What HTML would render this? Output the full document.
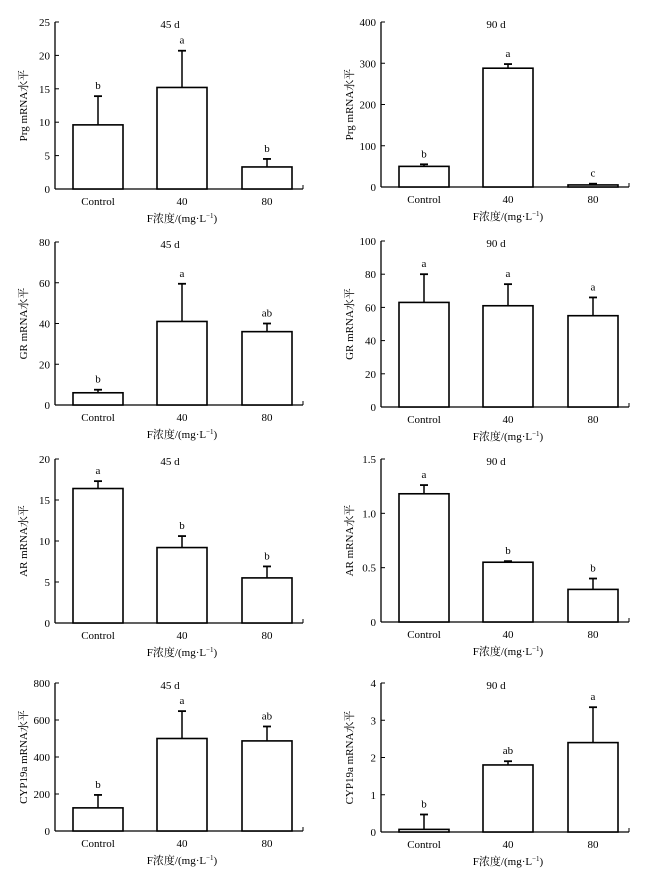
<!DOCTYPE html>
<html><head><meta charset="utf-8"><style>
body{margin:0;background:#fff}
svg{display:block;font-family:"Liberation Serif","Noto Serif CJK SC",serif}
</style></head><body>
<svg id="c" width="645" height="878"></svg>
<script>
const categories=["Control","40","80"];
const prg45=[9.6,15.2,3.3], prg45Err=[13.9,20.7,4.5], prg45Let=["b","a","b"];
const prg90=[50,288,5], prg90Err=[55,298,8], prg90Let=["b","a","c"];
const gr45=[6,41,36], gr45Err=[7.5,59.5,40], gr45Let=["b","a","ab"];
const gr90=[63,61,55], gr90Err=[80,74,66], gr90Let=["a","a","a"];
const ar45=[16.4,9.2,5.5], ar45Err=[17.3,10.6,6.9], ar45Let=["a","b","b"];
const ar90=[1.18,0.55,0.30], ar90Err=[1.26,0.56,0.40], ar90Let=["a","b","b"];
const cyp45=[125,500,487], cyp45Err=[195,648,565], cyp45Let=["b","a","ab"];
const cyp90=[0.07,1.8,2.4], cyp90Err=[0.47,1.9,3.35], cyp90Let=["b","ab","a"];
const ticksPrg45=["0","5","10","15","20","25"];
const ticksPrg90=["0","100","200","300","400"];
const ticksGr45=["0","20","40","60","80"];
const ticksGr90=["0","20","40","60","80","100"];
const ticksAr45=["0","5","10","15","20"];
const ticksAr90=["0","0.5","1.0","1.5"];
const ticksCyp45=["0","200","400","600","800"];
const ticksCyp90=["0","1","2","3","4"];

const svg=document.getElementById('c');
const NS="http://www.w3.org/2000/svg";
function mk(tag,attrs,parent,text){const e=document.createElementNS(NS,tag);for(const k in attrs)e.setAttribute(k,attrs[k]);if(text!==undefined)e.textContent=text;parent.appendChild(e);return e;}

function panel(id,ax,top,bot,ticks,vals,errs,lets,title,ylab){
  const g=mk('g',{},svg);
  
  
  const ymax=parseFloat(ticks[ticks.length-1]);
  const y=v=>bot-(v/ymax)*(bot-top);
  const xEnd=ax+248;
  const ln=mk('line',{x1:ax,y1:top,x2:ax,y2:bot,stroke:'#000','stroke-width':1.3},g);
  
  
  const xl=mk('line',{x1:ax,y1:bot,x2:xEnd,y2:bot,stroke:'#000','stroke-width':1.3},g);
  
  
  mk('line',{x1:xEnd,y1:bot,x2:xEnd,y2:bot-4,stroke:'#000','stroke-width':1},g);
  ticks.forEach(t=>{const yy=y(parseFloat(t));
    mk('line',{x1:ax,y1:yy,x2:ax+4,y2:yy,stroke:'#000','stroke-width':1},g);
    const tl=mk('text',{x:ax-5,y:yy+4,'text-anchor':'end','font-size':11},g,t);
    
    
  });
  const centers=[ax+43,ax+127,ax+212];
  vals.forEach((v,i)=>{
    const cx=centers[i];
    const r=mk('rect',{x:cx-25,y:y(v),width:50,height:bot-y(v),fill:'#fff',stroke:'#000','stroke-width':1.6},g);
    
    
    const ey=y(errs[i]);
    mk('line',{x1:cx,y1:y(v),x2:cx,y2:ey,stroke:'#000','stroke-width':1.5},g);
    mk('line',{x1:cx-4,y1:ey,x2:cx+4,y2:ey,stroke:'#000','stroke-width':1.8},g);
    const lt=mk('text',{x:cx,y:ey-7,'text-anchor':'middle','font-size':11},g,lets[i]);
    
    
    const cl=mk('text',{x:cx,y:bot+16,'text-anchor':'middle','font-size':11},g,categories[i]);
    
    
  });
  const tt=mk('text',{x:ax+115,y:top+6,'text-anchor':'middle','font-size':11},g,title);
  
  
  const xt=mk('text',{x:ax+127,y:bot+33,'text-anchor':'middle','font-size':11},g);
  
  
  xt.innerHTML='F浓度/(mg·L<tspan dy="-4" font-size="7">−1</tspan><tspan dy="4">)</tspan>';
  const ym=(top+bot)/2;
  const yt=mk('text',{x:ax-28,y:ym,'text-anchor':'middle','font-size':11,transform:`rotate(-90 ${ax-28} ${ym})`},g,ylab);
  
  
}
panel('prg-45d',55,22,189,ticksPrg45,prg45,prg45Err,prg45Let,'45 d','Prg mRNA水平');
panel('prg-90d',381,22,187,ticksPrg90,prg90,prg90Err,prg90Let,'90 d','Prg mRNA水平');
panel('gr-45d',55,242,405,ticksGr45,gr45,gr45Err,gr45Let,'45 d','GR mRNA水平');
panel('gr-90d',381,241,407,ticksGr90,gr90,gr90Err,gr90Let,'90 d','GR mRNA水平');
panel('ar-45d',55,459,623,ticksAr45,ar45,ar45Err,ar45Let,'45 d','AR mRNA水平');
panel('ar-90d',381,459,622,ticksAr90,ar90,ar90Err,ar90Let,'90 d','AR mRNA水平');
panel('cyp19a-45d',55,683,831,ticksCyp45,cyp45,cyp45Err,cyp45Let,'45 d','CYP19a mRNA水平');
panel('cyp19a-90d',381,683,832,ticksCyp90,cyp90,cyp90Err,cyp90Let,'90 d','CYP19a mRNA水平');
</script>
</body></html>
